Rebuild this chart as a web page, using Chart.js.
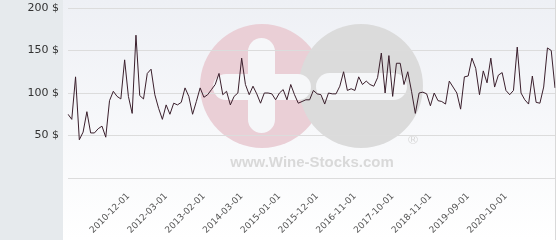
<!DOCTYPE html>
<html>
<head>
<meta charset="utf-8">
<script src="https://cdn.jsdelivr.net/npm/chart.js@4"></script>
<style>
  body { margin: 0; background: #fff; }
  canvas { display: block; }
</style>
</head>
<body>
<canvas id="priceChart" width="560" height="240"></canvas>
<script>
// 日付（カテゴリ）
const dates = [
  "2009-08-01", "2009-09-01", "2009-10-01", "2009-11-01", "2009-12-01", "2010-01-01", "2010-02-01", "2010-03-01", "2010-04-01", "2010-05-01",
  "2010-06-01", "2010-07-01", "2010-08-01", "2010-09-01", "2010-10-01", "2010-11-01", "2010-12-01", "2011-01-01", "2011-03-01", "2011-04-01",
  "2011-06-01", "2011-07-01", "2011-09-01", "2011-10-01", "2011-12-01", "2012-01-01", "2012-03-01", "2012-04-01", "2012-05-01", "2012-06-01",
  "2012-07-01", "2012-08-01", "2012-09-01", "2012-10-01", "2012-11-01", "2013-01-01", "2013-02-01", "2013-03-01", "2013-04-01", "2013-06-01",
  "2013-07-01", "2013-08-01", "2013-09-01", "2013-10-01", "2013-12-01", "2014-01-01", "2014-03-01", "2014-04-01", "2014-05-01", "2014-06-01",
  "2014-07-01", "2014-08-01", "2014-09-01", "2014-10-01", "2014-11-01", "2014-12-01", "2015-01-01", "2015-02-01", "2015-03-01", "2015-04-01",
  "2015-05-01", "2015-06-01", "2015-07-01", "2015-08-01", "2015-10-01", "2015-11-01", "2015-12-01", "2016-01-01", "2016-02-01", "2016-03-01",
  "2016-04-01", "2016-05-01", "2016-06-01", "2016-07-01", "2016-08-01", "2016-10-01", "2016-11-01", "2016-12-01", "2017-01-01", "2017-02-01",
  "2017-03-01", "2017-04-01", "2017-05-01", "2017-06-01", "2017-07-01", "2017-09-01", "2017-10-01", "2017-11-01", "2017-12-01", "2018-01-01",
  "2018-02-01", "2018-04-01", "2018-05-01", "2018-06-01", "2018-07-01", "2018-09-01", "2018-11-01", "2018-12-01", "2019-01-01", "2019-02-01",
  "2019-03-01", "2019-04-01", "2019-05-01", "2019-06-01", "2019-07-01", "2019-08-01", "2019-09-01", "2019-10-01", "2019-11-01", "2019-12-01",
  "2020-01-01", "2020-02-01", "2020-04-01", "2020-05-01", "2020-06-01", "2020-08-01", "2020-10-01", "2020-11-01", "2020-12-01", "2021-01-01",
  "2021-02-01", "2021-03-01", "2021-04-01", "2021-05-01", "2021-06-01", "2021-07-01", "2021-08-01", "2021-09-01", "2021-10-01", "2021-11-01"
];

// 価格（$）
const prices = [
  75, 69, 119, 45, 54, 78, 53, 53, 58, 61,
  48, 91, 102, 96, 93, 139, 96, 76, 168, 97,
  93, 123, 128, 98, 82, 69, 86, 75, 88, 86,
  89, 106, 96, 75, 90, 106, 95, 98, 104, 110,
  123, 98, 102, 86, 96, 100, 141, 110, 98, 108,
  99, 88, 100, 100, 99, 92, 100, 104, 92, 110,
  98, 88, 90, 92, 92, 103, 99, 98, 87, 100,
  99, 99, 108, 125, 103, 105, 103, 119, 110, 114,
  110, 108, 118, 147, 100, 144, 96, 135, 135, 110,
  125, 102, 76, 100, 101, 99, 85, 100, 91, 90,
  87, 114, 107, 100, 81, 119, 120, 141, 129, 98,
  126, 112, 141, 107, 121, 124, 103, 98, 103, 154,
  100, 92, 87, 120, 89, 88, 107, 153, 150, 106
];

// 表示する目盛りラベル
const shownTicks = [
  "2010-12-01", "2012-03-01", "2013-02-01", "2014-03-01", "2015-01-01", "2015-12-01",
  "2016-11-01", "2017-10-01", "2018-11-01", "2019-09-01", "2020-10-01"
];

// 背景とロゴの透かし
const backgroundPlugin = {
  id: "background",
  beforeDraw(chart) {
    const ctx = chart.ctx;
    const w = chart.width;
    const h = chart.height;
    ctx.save();
    const grad = ctx.createLinearGradient(0, 0, 0, h);
    grad.addColorStop(0, "#eef0f5");
    grad.addColorStop(1, "#ffffff");
    ctx.fillStyle = grad;
    ctx.fillRect(0, 0, w, h);
    ctx.fillStyle = "#e6eaed";
    ctx.fillRect(0, 0, 63, h);

    // pink circle with a plus
    ctx.fillStyle = "#eacfd6";
    ctx.beginPath();
    ctx.arc(262, 86, 62, 0, Math.PI * 2);
    ctx.fill();
    // grey circle with a minus
    ctx.fillStyle = "#dbdbdb";
    ctx.beginPath();
    ctx.arc(361, 86, 62, 0, Math.PI * 2);
    ctx.fill();

    ctx.fillStyle = "#f6f7f9";
    ctx.beginPath();
    ctx.roundRect(248, 38, 27, 95, 13.5);
    ctx.fill();
    ctx.beginPath();
    ctx.roundRect(213, 74, 98, 26, 13);
    ctx.fill();
    ctx.beginPath();
    ctx.roundRect(316, 73, 91, 27, 13.5);
    ctx.fill();

    ctx.fillStyle = "#d9d9d9";
    ctx.font = "bold 15px 'Liberation Sans'";
    ctx.textAlign = "center";
    ctx.textBaseline = "alphabetic";
    ctx.fillText("www.Wine-Stocks.com", 312, 167);
    ctx.font = "13px 'DejaVu Sans'";
    ctx.fillText("®", 413, 144);

    // right edge
    ctx.strokeStyle = "#d9d9d9";
    ctx.lineWidth = 1;
    ctx.beginPath();
    ctx.moveTo(555.5, 0);
    ctx.lineTo(555.5, h);
    ctx.stroke();
    ctx.fillStyle = "#ffffff";
    ctx.fillRect(556, 0, w - 556, h);
    ctx.restore();
  }
};

const chartCanvas = document.getElementById("priceChart");
const priceChart = new Chart(chartCanvas, {
  type: "line",
  data: {
    labels: dates,
    datasets: [
      {
        data: prices,
        borderColor: "#3a1f2c",
        borderWidth: 1,
        pointRadius: 0,
        tension: 0,
        fill: false,
      },
    ],
  },
  options: {
    responsive: false,
    animation: false,
    layout: { padding: { top: 8, right: 5, bottom: 0, left: 0 } },
    plugins: {
      legend: { display: false },
      tooltip: { enabled: false },
    },
    scales: {
      x: {
        grid: { display: false },
        border: { display: false },
        ticks: {
          autoSkip: false,
          minRotation: 45,
          maxRotation: 45,
          padding: 5,
          color: "#555",
          font: { family: "DejaVu Sans", size: 9 },
          callback: function (value, index) {
            return shownTicks.includes(dates[index]) ? dates[index] : "";
          },
        },
        afterFit: function (scale) {
          scale.height = 62;
          scale.paddingLeft = 0;
          scale.paddingRight = 0;
        },
      },
      y: {
        min: 0,
        max: 200,
        grid: { color: "#dcdcdc", drawTicks: false },
        border: { display: false },
        ticks: {
          stepSize: 50,
          padding: 9,
          color: "#333",
          font: { family: "DejaVu Sans", size: 11 },
          callback: function (value) {
            return value === 0 ? "" : value + " $";
          },
        },
        afterFit: function (scale) {
          scale.width = 68;
          scale.paddingTop = 0;
          scale.paddingBottom = 0;
        },
      },
    },
  },
  plugins: [backgroundPlugin],
});
</script>
</body>
</html>
